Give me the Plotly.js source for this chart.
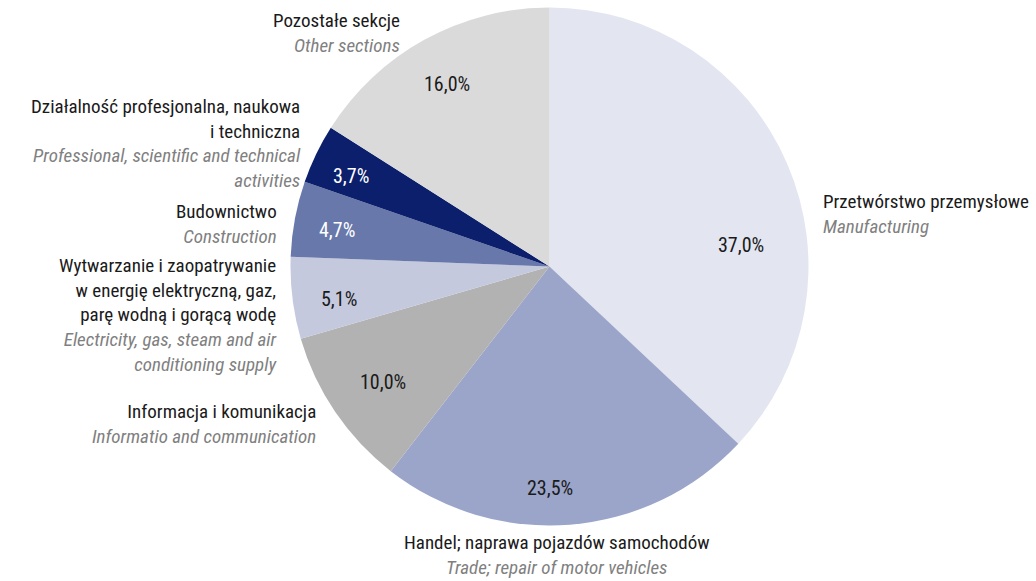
<!DOCTYPE html>
<html>
<head>
<meta charset="utf-8">
<script src="https://cdn.plot.ly/plotly-3.0.1.min.js"></script>
<style>html,body{margin:0;padding:0;background:#fff;}#chart{width:1036px;height:581px;}</style>
</head>
<body>
<div id="chart"></div>
<script>
// ---- data ----
const labelsPL = [
  "Przetwórstwo przemysłowe",
  "Handel; naprawa pojazdów samochodów",
  "Informacja i komunikacja",
  "Wytwarzanie i zaopatrywanie<br>w energię elektryczną, gaz,<br>parę wodną i gorącą wodę",
  "Budownictwo",
  "Działalność profesjonalna, naukowa<br>i techniczna",
  "Pozostałe sekcje"
];
const labelsEN = [
  "Manufacturing",
  "Trade; repair of motor vehicles",
  "Informatio and communication",
  "Electricity, gas, steam and air<br>conditioning supply",
  "Construction",
  "Professional, scientific and technical<br>activities",
  "Other sections"
];
const shares = [37.0, 23.5, 10.0, 5.1, 4.7, 3.7, 16.0];

// ---- styles ----
const colors = ["#e3e6f1", "#9aa5c9", "#b2b2b2", "#c4c9de", "#6878ab", "#0c1f6c", "#dadada"];
const pctColors = ["#1a1a1a", "#1a1a1a", "#1a1a1a", "#1a1a1a", "#ffffff", "#ffffff", "#1a1a1a"];
const FONT = "Roboto Condensed, Noto Sans, sans-serif";
const FS = 19;
const FSP = 20;
const W = 1036, H = 581;

// label positions (pixels) : [x, y, xanchor, align]
const labelPos = [
  [821, 214, "left", "left"],
  [557, 555, "center", "center"],
  [318, 424, "right", "right"],
  [279, 315, "right", "right"],
  [279, 224, "right", "right"],
  [303, 143, "right", "right"],
  [402, 33, "right", "right"]
];
const pctPos = [
  [741, 245], [550, 488], [383, 382], [339, 299], [337, 230], [351, 176], [447, 84]
];

const fmt = v => v.toFixed(1).replace('.', ',') + '%';

const annotations = [];
shares.forEach((v, i) => {
  const [lx, ly, xa, al] = labelPos[i];
  annotations.push({
    xref: 'paper', yref: 'paper', x: lx / W, y: 1 - ly / H,
    xanchor: xa, yanchor: 'middle', align: al, showarrow: false,
    text: labelsPL[i] + '<br><i><span style="color:#808080">' + labelsEN[i] + '</span></i>',
    font: {family: FONT, size: FS, color: '#1a1a1a'}
  });
  const [px, py] = pctPos[i];
  annotations.push({
    xref: 'paper', yref: 'paper', x: px / W, y: 1 - py / H,
    xanchor: 'center', yanchor: 'middle', showarrow: false,
    text: fmt(v),
    font: {family: FONT, size: FSP, color: pctColors[i]}
  });
});

const cx = 549.5, cy = 266.5, r = 259;
const trace = {
  type: 'pie',
  values: shares,
  labels: labelsEN,
  sort: false,
  direction: 'clockwise',
  rotation: 0,
  marker: {colors: colors, line: {width: 0}},
  textinfo: 'none',
  hoverinfo: 'none',
  showlegend: false,
  domain: {x: [(cx - r) / W, (cx + r) / W], y: [1 - (cy + r) / H, 1 - (cy - r) / H]}
};

Plotly.newPlot('chart', [trace], {
  width: W, height: H,
  margin: {l: 0, r: 0, t: 0, b: 0},
  paper_bgcolor: '#ffffff',
  showlegend: false,
  annotations: annotations
}, {staticPlot: true});
</script>
</body>
</html>
